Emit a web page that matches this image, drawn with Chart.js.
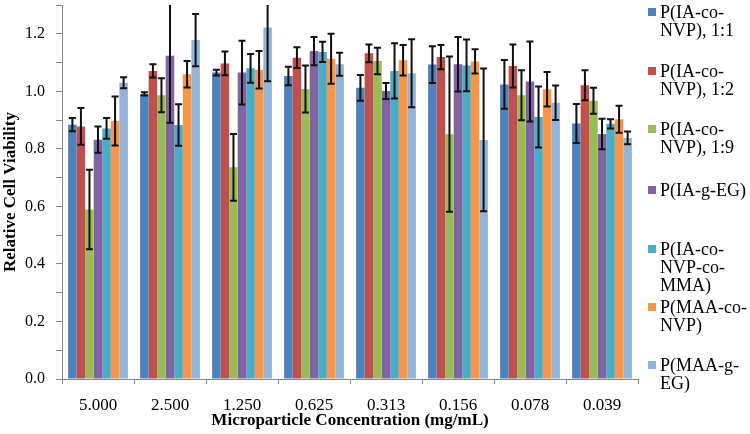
<!DOCTYPE html>
<html>
<head>
<meta charset="utf-8">
<script src="https://cdn.jsdelivr.net/npm/chart.js@4.4.1/dist/chart.umd.min.js"></script>
<style>
  body { margin: 0; background: #fff; }
  #wrap { position: relative; width: 750px; height: 434px; }
  #legend { position: absolute; left: 0; top: 0; font-family: "Liberation Serif", "Times New Roman", serif; font-size: 18px; line-height: 18px; color: #000; }
  .item { position: absolute; left: 648px; white-space: nowrap; }
  .box { position: absolute; left: 0; top: 5px; width: 8px; height: 8px; }
  .txt { margin-left: 12px; }
</style>
</head>
<body>
<div id="wrap">
  <canvas id="bar-chart" width="750" height="434"></canvas>
  <div id="legend"></div>
</div>
<script>
// categories
const concentrations = ['5.000', '2.500', '1.250', '0.625', '0.313', '0.156', '0.078', '0.039'];

// series values + std errors
const ia11 = [0.884, 0.991, 1.065, 1.053, 1.012, 1.093, 1.024, 0.888];
const ia11Err = [0.023, 0.006, 0.010, 0.032, 0.045, 0.064, 0.085, 0.068];
const ia12 = [0.878, 1.071, 1.097, 1.117, 1.132, 1.119, 1.088, 1.021];
const ia12Err = [0.064, 0.023, 0.041, 0.036, 0.031, 0.042, 0.075, 0.052];
const ia19 = [0.589, 0.986, 0.736, 1.008, 1.105, 0.851, 0.986, 0.967];
const ia19Err = [0.138, 0.059, 0.116, 0.082, 0.046, 0.270, 0.087, 0.045];
const iaEG = [0.832, 1.124, 1.065, 1.140, 1.001, 1.094, 1.034, 0.852];
const iaEGErr = [0.046, 0.233, 0.111, 0.049, 0.028, 0.095, 0.139, 0.053];
const iaMMA = [0.871, 0.883, 1.080, 1.137, 1.071, 1.090, 0.911, 0.887];
const iaMMAErr = [0.036, 0.072, 0.050, 0.035, 0.096, 0.090, 0.106, 0.016];
const maaNVP = [0.897, 1.059, 1.075, 1.113, 1.108, 1.104, 1.007, 0.903];
const maaNVPErr = [0.085, 0.046, 0.065, 0.087, 0.053, 0.042, 0.060, 0.047];
const maaEG = [1.030, 1.178, 1.222, 1.094, 1.063, 0.831, 0.960, 0.838];
const maaEGErr = [0.019, 0.091, 0.187, 0.040, 0.118, 0.248, 0.060, 0.022];

// legend labels, wrapped like the original
const seriesNames = [
    ['P(IA-co-', 'NVP), 1:1'],
    ['P(IA-co-', 'NVP), 1:2'],
    ['P(IA-co-', 'NVP), 1:9'],
    ['P(IA-g-EG)'],
    ['P(IA-co-', 'NVP-co-', 'MMA)'],
    ['P(MAA-co-', 'NVP)'],
    ['P(MAA-g-', 'EG)']
];

const seriesValues = [ia11, ia12, ia19, iaEG, iaMMA, maaNVP, maaEG];
const seriesErrors = [ia11Err, ia12Err, ia19Err, iaEGErr, iaMMAErr, maaNVPErr, maaEGErr];
const colors = ['#4F81BD', '#C0504D', '#9BBB59', '#8064A2', '#4BACC6', '#F79646', '#95B3D7'];
const legendCenters = [12, 71, 129, 190, 249, 307, 365];

const serif = "'Liberation Serif', 'Times New Roman', serif";

// draws the black error bars over each bar
const errorBars = {
    id: 'errorBars',
    afterDatasetsDraw(chart) {
        const ctx = chart.ctx;
        const yScale = chart.scales.y;
        const area = chart.chartArea;
        ctx.save();
        ctx.beginPath();
        ctx.rect(area.left, area.top, area.right - area.left, area.bottom - area.top);
        ctx.clip();
        ctx.strokeStyle = '#111';
        ctx.lineWidth = 2;
        chart.data.datasets.forEach((ds, i) => {
            chart.getDatasetMeta(i).data.forEach((bar, j) => {
                const v = ds.data[j];
                const e = ds.errors[j];
                const top = yScale.getPixelForValue(v + e);
                const bot = yScale.getPixelForValue(v - e);
                ctx.beginPath();
                ctx.moveTo(bar.x, top);
                ctx.lineTo(bar.x, bot);
                ctx.moveTo(bar.x - 3.5, top);
                ctx.lineTo(bar.x + 3.5, top);
                ctx.moveTo(bar.x - 3.5, bot);
                ctx.lineTo(bar.x + 3.5, bot);
                ctx.stroke();
            });
        });
        ctx.restore();
    }
};

const ctx = document.getElementById('bar-chart').getContext('2d');
new Chart(ctx, {
    type: 'bar',
    data: {
        labels: concentrations,
        datasets: seriesValues.map((vals, i) => ({
            label: seriesNames[i].join(' '),
            data: vals,
            errors: seriesErrors[i],
            backgroundColor: colors[i],
            borderWidth: 0,
            categoryPercentage: 0.83,
            barPercentage: 1.0
        }))
    },
    options: {
        responsive: false,
        animation: false,
        layout: { padding: { top: 5, right: 112, left: 0, bottom: 0 } },
        plugins: {
            legend: { display: false },
            tooltip: { enabled: false }
        },
        scales: {
            x: {
                afterFit(scale) {
                    scale.height = 55;
                    scale.paddingLeft = 0;
                    scale.paddingRight = 0;
                },
                grid: {
                    display: true,
                    drawOnChartArea: false,
                    drawTicks: true,
                    tickLength: 5,
                    color: '#868686'
                },
                border: { color: '#868686' },
                ticks: {
                    color: '#000',
                    padding: 11,
                    font: { size: 17, family: serif }
                },
                title: {
                    display: true,
                    text: 'Microparticle Concentration (mg/mL)',
                    color: '#000',
                    padding: { top: 0, bottom: 3 },
                    font: { size: 17, weight: 'bold', family: serif }
                }
            },
            y: {
                min: 0,
                max: 1.3,
                afterFit(scale) {
                    scale.width = 62;
                    scale.paddingTop = 0;
                    scale.paddingBottom = 0;
                },
                grid: {
                    display: true,
                    drawOnChartArea: false,
                    drawTicks: true,
                    tickLength: 6,
                    color: '#868686'
                },
                border: { color: '#868686' },
                ticks: {
                    stepSize: 0.1,
                    autoSkip: false,
                    color: '#000',
                    padding: 11,
                    font: { size: 16, family: serif },
                    callback: function(value) {
                        const n = Math.round(value * 10);
                        return n % 2 === 0 ? (n / 10).toFixed(1) : '';
                    }
                },
                title: {
                    display: true,
                    text: 'Relative Cell Viability',
                    color: '#000',
                    padding: 0,
                    font: { size: 17, weight: 'bold', family: serif }
                }
            }
        }
    },
    plugins: [errorBars]
});

// legend on the right, built as html text
const legend = document.getElementById('legend');
seriesNames.forEach((lines, i) => {
    const item = document.createElement('div');
    item.className = 'item';
    item.style.top = (legendCenters[i] - 9) + 'px';
    const box = document.createElement('span');
    box.className = 'box';
    box.style.background = colors[i];
    const txt = document.createElement('div');
    txt.className = 'txt';
    txt.innerHTML = lines.join('<br>');
    item.appendChild(box);
    item.appendChild(txt);
    legend.appendChild(item);
});
</script>
</body>
</html>
